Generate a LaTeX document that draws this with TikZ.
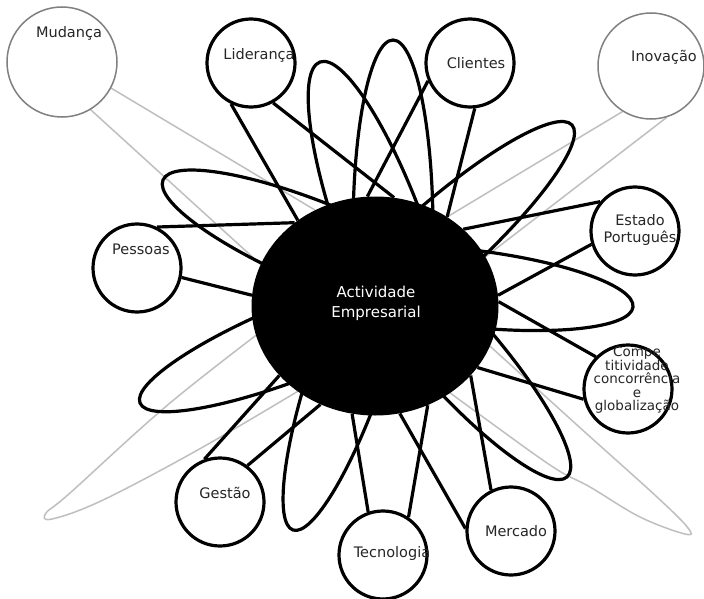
\documentclass[tikz,border=0pt]{standalone}
\usepackage{fontspec}
\setmainfont{DejaVu Sans}
\usetikzlibrary{shapes.geometric}
\pgfdeclarelayer{bg}
\pgfsetlayers{bg,main}
% tip x, tip y, inward visual angle, semi-major, semi-minor
\newcommand{\petalshape}[6][bpetal]{%
  \begin{scope}[shift={(#2,#3)},rotate=#4]
    \draw[#1] (#5pt,#6pt) arc[start angle=90,end angle=270,x radius=#5pt,y radius=#6pt];
  \end{scope}}
\begin{document}
\begin{tikzpicture}[x=1pt,y=-1pt,
  bline/.style={line width=3.2pt, black},
  gline/.style={line width=1.5pt, black!25},
  bpetal/.style={line width=3.2pt, black},
  gpetal/.style={line width=1.5pt, black!25},
  topic/.style={circle, draw=black, line width=3.2pt, fill=white, minimum size=88pt, inner sep=0pt},
  gtopic/.style={circle, draw=black!50, line width=1.5pt, fill=white, minimum size=110pt, inner sep=0pt},
  lbl/.style={font=\fontsize{14.5}{17}\selectfont, text=black!85, inner sep=0pt, align=center},
  ctrshape/.style={ellipse, fill=black, minimum width=247pt, minimum height=219pt, inner sep=0pt}
]
\useasboundingbox (0,0) rectangle (704,599);

% ---- nodes ----
\node[ctrshape] (ctr) at (375,306) {};
\node[lbl, text=white, font=\fontsize{15}{20}\selectfont] (ctrT) at (376,303) {Actividade\\Empresarial};

\node[gtopic] (mud) at (62,62) {};
\node[gtopic, minimum size=106pt] (ino) at (651,66) {};
\node[topic] (lid) at (251,63) {};
\node[topic] (cli) at (470,63) {};
\node[topic] (pes) at (137,268) {};
\node[topic] (est) at (635,231) {};
\node[topic] (com) at (628,389) {};
\node[topic] (ges) at (220,502) {};
\node[topic] (tec) at (383,555) {};
\node[topic] (mer) at (511,531) {};

\node[lbl] (mudT) at (69,33) {Mudança};
\node[lbl] (inoT) at (664,57) {Inovação};
\node[lbl] (lidT) at (259,55) {Liderança};
\node[lbl] (cliT) at (476,63) {Clientes};
\node[lbl] (pesT) at (141,249) {Pessoas};
\node[lbl] (estT) at (640,230) {Estado\\Português};
\node[lbl, font=\fontsize{13.5}{13.5}\selectfont] (comT) at (637,380) {Compe\\titividade\\concorrência\\e\\globalização};
\node[lbl] (gesT) at (225,493) {Gestão};
\node[lbl] (tecT) at (392,553) {Tecnologia};
\node[lbl] (merT) at (516,531) {Mercado};

\begin{pgfonlayer}{bg}
\fill[white] (0,0) rectangle (704,599);
% gray petals
\draw[gpetal] plot[smooth, tension=0.6] coordinates {(280,317) (170,403) (70,493) (46,513) (52,519) (103,500) (203,447) (320,378)};
\draw[gpetal] plot[smooth, tension=0.6] coordinates {(470,328) (577,425) (657,497) (688,528) (685,534) (640,517) (590,487) (553,467) (483,417) (430,378)};
% gray connectors
\draw[gline] (mud.332) -- (ctr.122.3);
\draw[gline] (mud.301.3) -- (ctr.160);
\draw[gline] (ino.238) -- (ctr.51.6);
\draw[gline] (ino.287.5) -- (ctr.24);
% black petals
\petalshape{163}{180}{-22.5}{175}{41}
\petalshape{320}{62}{-70}{185}{43}
\petalshape{393}{40}{-90}{190}{40}
\petalshape{572}{125}{-138.2}{185}{39.5}
\petalshape{633}{307}{173.5}{170}{38.5}
\petalshape{567}{477}{131.5}{175}{39.5}
\petalshape{293}{530}{71.1}{175}{37}
\petalshape{140}{403}{21.8}{180}{38}
% black connectors
\draw[bline] (lid.244.5) -- (ctr.132.7);
\draw[bline] (lid.299.7) -- (ctr.80.5);
\draw[bline] (cli.276.5) -- (ctr.51.1);
\draw[bline] (cli.203) -- (ctr.94);
\draw[bline] (pes.64) -- (ctr.134.3);
\draw[bline] (pes.348.7) -- (ctr.175.8);
\draw[bline] (est.140.8) -- (ctr.41.6);
\draw[bline] (est.197.3) -- (ctr.5.1);
\draw[bline] (com.135.8) -- (ctr.2.8);
\draw[bline] (com.193) -- (ctr.329.4);
\draw[bline] (ges.110.7) -- (ctr.216);
\draw[bline] (ges.53.1) -- (ctr.241);
\draw[bline] (tec.109.6) -- (ctr.258.5);
\draw[bline] (tec.56) -- (ctr.298.4);
\draw[bline] (mer.177.4) -- (ctr.283.2);
\draw[bline] (mer.116) -- (ctr.324.7);
\end{pgfonlayer}
\end{tikzpicture}
\end{document}
